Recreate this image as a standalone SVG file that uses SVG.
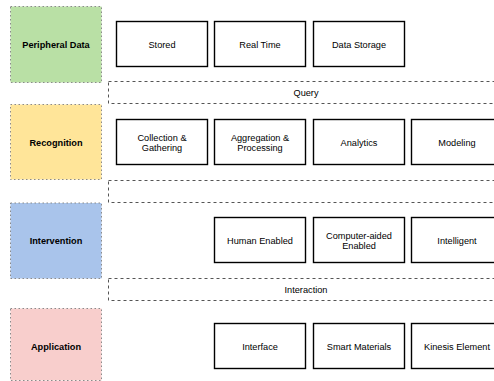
<svg xmlns="http://www.w3.org/2000/svg" width="494" height="381" viewBox="0 0 494 381">
<style>
.lane{stroke:#8a8a8a;stroke-width:1;stroke-dasharray:1.5 2.5}
.band{fill:#fff;stroke:#555;stroke-width:1;stroke-dasharray:3 3}
.node{fill:#fff;stroke:#000;stroke-width:1.4}
text{font-family:"Liberation Sans",Arial,sans-serif;font-size:9.2px;text-anchor:middle;fill:#000}
.lbl{font-weight:bold;font-size:9.2px}
</style>
<rect width="494" height="381" fill="#fff"/>
<g id="connectors"></g>
<g id="peripheral"><rect class="lane" x="10.5" y="6.5" width="91" height="76" fill="#B9E0A5"/><text class="lbl" x="56" y="47.5">Peripheral Data</text></g>
<g id="recognition"><rect class="lane" x="10.5" y="104.5" width="91" height="75" fill="#FFE599"/><text class="lbl" x="56" y="146">Recognition</text></g>
<g id="intervention"><rect class="lane" x="10.5" y="203" width="91" height="75.5" fill="#A9C4EB"/><text class="lbl" x="56" y="244">Intervention</text></g>
<g id="application"><rect class="lane" x="10.5" y="308.5" width="91" height="72" fill="#F8CECC"/><text class="lbl" x="56" y="350">Application</text></g>
<g id="query"><rect class="band" x="108.5" y="81.5" width="400" height="22"/><text x="306" y="96">Query</text></g>
<g id="band2"><rect class="band" x="108.5" y="180.5" width="400" height="22"/></g>
<g id="interaction"><rect class="band" x="108.5" y="278.5" width="400" height="22"/><text x="306" y="293">Interaction</text></g>
<g id="stored"><rect class="node" x="116.5" y="21.5" width="91" height="45"/><text x="162" y="47.5">Stored</text></g>
<g id="realtime"><rect class="node" x="214.5" y="21.5" width="91" height="45"/><text x="260" y="47.5">Real Time</text></g>
<g id="datastorage"><rect class="node" x="313.5" y="21.5" width="91" height="45"/><text x="359" y="47.5">Data Storage</text></g>
<g id="collection"><rect class="node" x="116.5" y="119.5" width="91" height="45"/><text x="162" y="140.5">Collection &amp;</text><text x="162" y="151">Gathering</text></g>
<g id="aggregation"><rect class="node" x="214.5" y="119.5" width="91" height="45"/><text x="260" y="140.5">Aggregation &amp;</text><text x="260" y="151">Processing</text></g>
<g id="analytics"><rect class="node" x="313.5" y="119.5" width="91" height="45"/><text x="359" y="145.5">Analytics</text></g>
<g id="modeling"><rect class="node" x="411.5" y="119.5" width="91" height="45"/><text x="457" y="145.5">Modeling</text></g>
<g id="human"><rect class="node" x="214.5" y="217.5" width="91" height="45"/><text x="260" y="243.5">Human Enabled</text></g>
<g id="computer"><rect class="node" x="313.5" y="217.5" width="91" height="45"/><text x="359" y="238.5">Computer-aided</text><text x="359" y="249">Enabled</text></g>
<g id="intelligent"><rect class="node" x="411.5" y="217.5" width="91" height="45"/><text x="457" y="243.5">Intelligent</text></g>
<g id="interface"><rect class="node" x="214.5" y="323.5" width="91" height="45"/><text x="260" y="349.5">Interface</text></g>
<g id="smart"><rect class="node" x="313.5" y="323.5" width="91" height="45"/><text x="359" y="349.5">Smart Materials</text></g>
<g id="kinesis"><rect class="node" x="411.5" y="323.5" width="91" height="45"/><text x="457" y="349.5">Kinesis Element</text></g>
</svg>
